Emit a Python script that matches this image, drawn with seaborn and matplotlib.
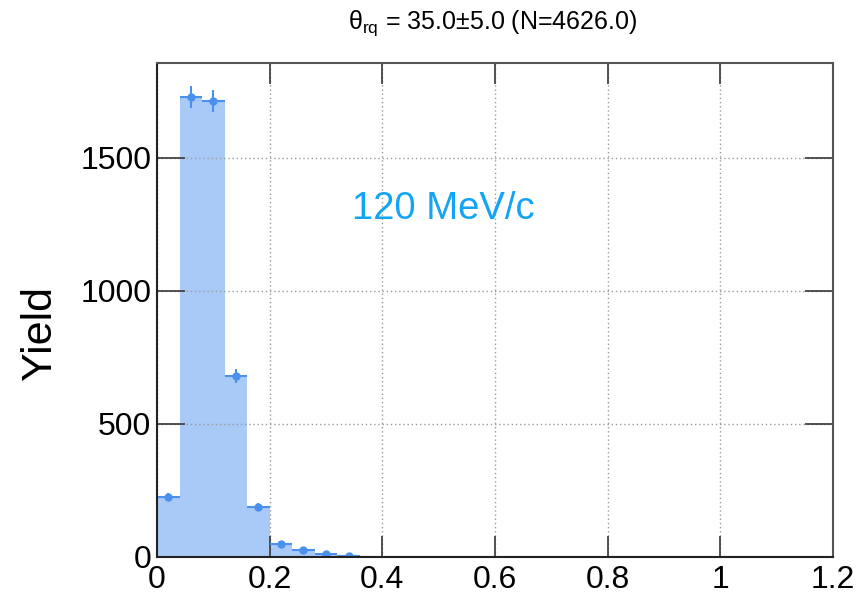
import numpy as np
import pandas as pd
import matplotlib
matplotlib.use("Agg")
import matplotlib.pyplot as plt
import seaborn as sns

# Histogram contents: 30 bins of width 0.04 over [0, 1.2]
bin_edges = [round(0.04 * i, 2) for i in range(31)]
counts = [224, 1730, 1714, 679, 189, 50, 25, 10, 5] + [0] * 21
x_ticks = [0, 0.2, 0.4, 0.6, 0.8, 1.0, 1.2]
x_tick_labels = ["0", "0.2", "0.4", "0.6", "0.8", "1", "1.2"]
y_ticks = [0, 500, 1000, 1500]
y_tick_labels = ["0", "500", "1000", "1500"]
title_text = r"θ$_{\mathrm{rq}}$ = 35.0±5.0 (N=4626.0)"
label_text = "120 MeV/c"

sns.set_theme(style="white")
plt.rcParams["font.family"] = ["Liberation Sans", "DejaVu Sans"]
plt.rcParams["mathtext.fontset"] = "custom"
plt.rcParams["mathtext.rm"] = "Liberation Sans"
plt.rcParams["mathtext.it"] = "Liberation Sans"
plt.rcParams["text.color"] = "black"
plt.rcParams["axes.labelcolor"] = "black"

fill_color = "#a9c9f7"
mark_color = "#4b90ef"

edges = np.array(bin_edges)
centers = 0.5 * (edges[:-1] + edges[1:])
df = pd.DataFrame({"x": centers, "w": counts})

fig = plt.figure(figsize=(8.64, 5.97), dpi=100)
ax = fig.add_axes([157 / 864, 1 - 557 / 597, 676 / 864, 494 / 597])

sns.histplot(data=df, x="x", weights="w", bins=list(bin_edges), stat="count",
             element="bars", fill=True, color=fill_color, alpha=1.0,
             linewidth=0, ax=ax, zorder=2)

# Poisson error bars with bin-width horizontal bars
yerr = np.sqrt(np.array(counts, dtype=float))
xerr = 0.5 * np.diff(edges)
nz = np.array(counts) > 0
ax.errorbar(centers[nz], np.array(counts)[nz], yerr=yerr[nz], xerr=xerr[nz],
            fmt="o", color=mark_color, ms=5, elinewidth=1.5, capsize=0, zorder=4)
ax.plot([edges[nz.sum()], edges[-1]], [0, 0], color=mark_color, lw=1.5, zorder=4)

ax.set_xlim(0, 1.2)
ax.set_ylim(0, 1857)
ax.set_xticks(x_ticks)
ax.set_xticklabels(x_tick_labels)
ax.set_yticks(y_ticks)
ax.set_yticklabels(y_tick_labels)
ax.tick_params(axis="both", labelsize=23, labelcolor="black")
ax.tick_params(axis="x", direction="in", length=15, width=1.3, top=True,
               bottom=True, pad=6, color="#444444")
ax.tick_params(axis="y", direction="in", length=20, width=1.3, left=True,
               right=True, pad=4, color="#444444")
ax.grid(True, linestyle=(0, (1, 2)), color="#999999", linewidth=1.0, zorder=1)
ax.set_axisbelow(False)
for s in ax.spines.values():
    s.set_color("#555555")
    s.set_linewidth(1.5)
    s.set_zorder(5)
ax.spines["left"].set_color("#222222")
ax.spines["bottom"].set_color("#222222")

ax.set_xlabel("")
ax.set_ylabel("Yield", fontsize=31)
ax.yaxis.set_label_coords(-0.144, 0.453)

ax.text(0.509, 1308, label_text, color="#14a4f5", fontsize=27.5,
        ha="center", va="center", zorder=6)
fig.text(0.57, 0.962, title_text, fontsize=18, ha="center", va="center")

fig.savefig("out.png", dpi=100)
